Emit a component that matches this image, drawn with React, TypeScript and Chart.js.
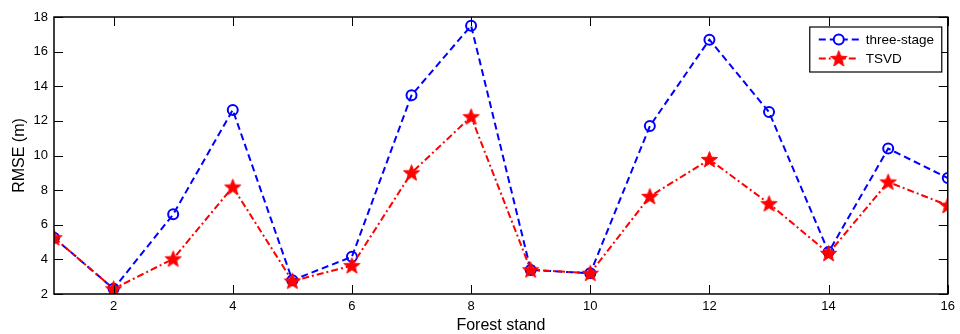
import React, { useEffect, useRef } from "react";
import { Chart, registerables } from "chart.js";

Chart.register(...registerables);

const stands = [1, 2, 3, 4, 5, 6, 7, 8, 9, 10, 11, 12, 13, 14, 15, 16];
const threeStage = [5.25, 2.3, 6.6, 12.63, 2.8, 4.15, 13.48, 17.5, 3.39, 3.2, 11.7, 16.69, 12.51, 4.42, 10.4, 8.7];
const tsvd = [5.25, 2.3, 4.03, 8.18, 2.75, 3.64, 9.0, 12.24, 3.4, 3.2, 7.64, 9.77, 7.22, 4.35, 8.47, 7.12];
const xTicks = [2, 4, 6, 8, 10, 12, 14, 16];
const yTicks = [2, 4, 6, 8, 10, 12, 14, 16, 18];
const seriesNames = ["three-stage", "TSVD"];

const FONT = "'Liberation Sans', Arial, Helvetica, sans-serif";
const BLUE = "#0000ff";
const RED = "#ff0000";

function makeStar(outer: number, inner: number, color: string): HTMLCanvasElement {
  const size = Math.ceil(outer * 2 + 2);
  const c = document.createElement("canvas");
  c.width = size;
  c.height = size;
  const g = c.getContext("2d")!;
  const cx = size / 2;
  const cy = size / 2;
  g.beginPath();
  for (let i = 0; i < 10; i++) {
    const r = i % 2 === 0 ? outer : inner;
    const a = -Math.PI / 2 + (i * Math.PI) / 5;
    const px = cx + r * Math.cos(a);
    const py = cy + r * Math.sin(a) + 0.6;
    if (i === 0) g.moveTo(px, py);
    else g.lineTo(px, py);
  }
  g.closePath();
  g.fillStyle = color;
  g.fill();
  g.lineWidth = 1;
  g.strokeStyle = color;
  g.stroke();
  return c;
}

export default function App() {
  const ref = useRef<HTMLCanvasElement | null>(null);

  useEffect(() => {
    document.body.style.margin = "0";
    const canvas = ref.current!;
    const star = makeStar(8.5, 3.6, RED);

    const frame = {
      id: "frame",
      afterDraw(chart: any) {
        const { ctx, chartArea } = chart;
        const { left, right, top, bottom } = chartArea;
        const xs = chart.scales.x;
        const ys = chart.scales.y;
        ctx.save();
        ctx.strokeStyle = "#000";
        ctx.lineWidth = 1;
        const tl = 9;
        ctx.beginPath();
        xTicks.forEach((v) => {
          const px = Math.round(xs.getPixelForValue(v)) + 0.5;
          ctx.moveTo(px, bottom);
          ctx.lineTo(px, bottom - tl);
          ctx.moveTo(px, top);
          ctx.lineTo(px, top + tl);
        });
        yTicks.forEach((v) => {
          const py = Math.round(ys.getPixelForValue(v)) + 0.5;
          ctx.moveTo(left, py);
          ctx.lineTo(left + tl, py);
          ctx.moveTo(right, py);
          ctx.lineTo(right - tl, py);
        });
        ctx.stroke();
        ctx.lineWidth = 1.5;
        ctx.strokeRect(left, top, right - left, bottom - top);

        // legend
        const lx = right - 138;
        const ly = top + 10;
        const lw = 132;
        const lh = 45;
        ctx.fillStyle = "#fff";
        ctx.fillRect(lx, ly, lw, lh);
        ctx.lineWidth = 1.2;
        ctx.strokeStyle = "#000";
        ctx.strokeRect(lx, ly, lw, lh);
        const rows = [
          { y: ly + 12.5, color: BLUE, dash: [7, 4], kind: "circle" },
          { y: ly + 31.5, color: RED, dash: [7, 3, 2, 3], kind: "star" },
        ];
        ctx.font = `13.5px ${FONT}`;
        ctx.textBaseline = "middle";
        ctx.textAlign = "left";
        rows.forEach((r, i) => {
          ctx.save();
          ctx.strokeStyle = r.color;
          ctx.lineWidth = 2;
          ctx.setLineDash(r.dash);
          ctx.beginPath();
          ctx.moveTo(lx + 9, r.y);
          ctx.lineTo(lx + 49, r.y);
          ctx.stroke();
          ctx.setLineDash([]);
          const mx = lx + 29;
          if (r.kind === "circle") {
            ctx.fillStyle = "#fff";
            ctx.beginPath();
            ctx.arc(mx, r.y, 5, 0, Math.PI * 2);
            ctx.fill();
            ctx.stroke();
          } else {
            ctx.drawImage(star, mx - star.width / 2, r.y - star.height / 2);
          }
          ctx.restore();
          ctx.fillStyle = "#000";
          ctx.fillText(seriesNames[i], lx + 56, r.y + 0.5);
        });
        ctx.restore();
      },
    };

    const chart = new Chart(canvas, {
      type: "line",
      data: {
        datasets: [
          {
            label: seriesNames[0],
            data: stands.map((s, i) => ({ x: s, y: threeStage[i] })),
            borderColor: BLUE,
            backgroundColor: "rgba(0,0,0,0)",
            borderWidth: 2,
            borderDash: [7, 4],
            pointStyle: "circle",
            pointRadius: 5,
            pointBorderWidth: 2,
            pointBorderColor: BLUE,
            pointBackgroundColor: "rgba(255,255,255,0)",
            tension: 0,
            order: 2,
          },
          {
            label: seriesNames[1],
            data: stands.map((s, i) => ({ x: s, y: tsvd[i] })),
            borderColor: RED,
            backgroundColor: RED,
            borderWidth: 2,
            borderDash: [7, 3, 2, 3],
            pointStyle: star as any,
            pointRadius: 8,
            pointBorderColor: RED,
            pointBackgroundColor: RED,
            tension: 0,
            order: 1,
          },
        ],
      },
      options: {
        animation: false,
        responsive: false,
        maintainAspectRatio: false,
        layout: { padding: { top: 17, right: 8, left: 0, bottom: 0 } },
        plugins: { legend: { display: false }, tooltip: { enabled: false } },
        scales: {
          x: {
            type: "linear",
            min: 1,
            max: 16,
            grid: { display: false, drawTicks: false },
            border: { display: false },
            afterBuildTicks: (s: any) => {
              s.ticks = xTicks.map((v) => ({ value: v }));
            },
            afterFit: (s: any) => {
              s.height = 40;
            },
            ticks: {
              color: "#000",
              font: { family: FONT, size: 13 },
              padding: 5,
              maxRotation: 0,
              autoSkip: false,
            },
            title: {
              display: true,
              text: "Forest stand",
              color: "#000",
              font: { family: FONT, size: 16, lineHeight: 1 },
              padding: { top: 0, bottom: 0 },
            },
          },
          y: {
            type: "linear",
            min: 2,
            max: 18,
            grid: { display: false, drawTicks: false },
            border: { display: false },
            afterBuildTicks: (s: any) => {
              s.ticks = yTicks.map((v) => ({ value: v }));
            },
            afterFit: (s: any) => {
              s.width = 54;
            },
            ticks: {
              color: "#000",
              font: { family: FONT, size: 13 },
              padding: 6,
              autoSkip: false,
            },
            title: {
              display: true,
              text: "RMSE (m)",
              color: "#000",
              font: { family: FONT, size: 16 },
              padding: { top: 10, bottom: 0 },
            },
          },
        },
      },
      plugins: [frame],
    });

    return () => chart.destroy();
  }, []);

  return (
    <div style={{ width: 960, height: 334 }}>
      <canvas ref={ref} width={960} height={334} style={{ display: "block", width: 960, height: 334 }} />
    </div>
  );
}
